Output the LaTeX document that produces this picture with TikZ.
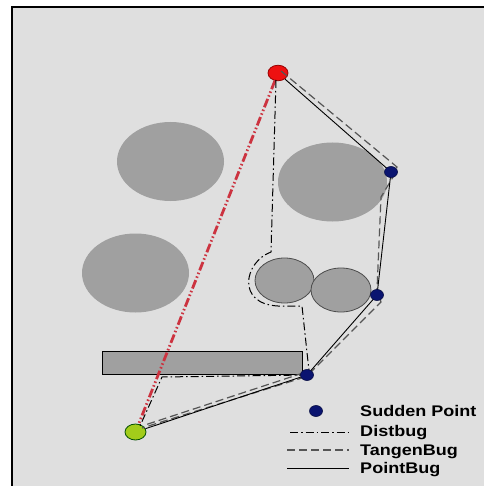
\documentclass[tikz,border=0pt]{standalone}
\usepackage{fontspec}
\setmainfont{Liberation Sans}
\usetikzlibrary{shapes.geometric}
\definecolor{bg}{HTML}{DFDFDF}
\definecolor{obst}{HTML}{A0A0A0}
\definecolor{redpt}{HTML}{EE1111}
\definecolor{redline}{HTML}{CC3340}
\definecolor{greenpt}{HTML}{A2CC1A}
\definecolor{navy}{HTML}{0A1470}
\definecolor{tgray}{HTML}{555555}
\tikzset{
  obstacle/.style={fill=obst},
  smallobst/.style={fill=obst, draw=black!70, line width=0.8pt},
  sudden/.style={ellipse, fill=navy, draw=navy!60!black, line width=0.6pt, minimum width=13pt, minimum height=11pt, inner sep=0pt},
  startpt/.style={ellipse, fill=redpt, draw=red!60!black, line width=0.8pt, minimum width=20pt, minimum height=15.5pt, inner sep=0pt},
  goalpt/.style={ellipse, fill=greenpt, draw=green!30!black, line width=0.8pt, minimum width=21pt, minimum height=16pt, inner sep=0pt},
  straightline/.style={draw=redline, line width=2.8pt, dash pattern=on 9pt off 2.5pt on 1.5pt off 2.5pt on 1.5pt off 2.5pt},
  distbug/.style={draw=black, line width=1pt, dash pattern=on 8pt off 3pt on 1.5pt off 3pt},
  tangenbug/.style={draw=tgray, line width=1.2pt, dash pattern=on 8pt off 4pt},
  pointbug/.style={draw=black, line width=0.9pt},
  legendtext/.style={anchor=base west, inner sep=0pt, font=\fontsize{15.4}{16}\bfseries\selectfont, xscale=1.17},
}
\begin{document}
\begin{tikzpicture}[x=1pt,y=-1pt]
\useasboundingbox (0,0) rectangle (484,486);
\fill[white] (0,0) rectangle (484,486);
\fill[bg] (11,6) rectangle (484,486);
\draw[black, line width=1.6pt] (11.8,486) -- (11.8,6.8) -- (484,6.8);
% obstacles
\fill[obstacle] (170.5,161.5) ellipse [x radius=53.5, y radius=39.5];
\fill[obstacle] (135.5,273) ellipse [x radius=53.5, y radius=39.5];
\fill[obstacle] (332.5,182) ellipse [x radius=54.5, y radius=39.5];
\draw[smallobst] (284.5,280.5) ellipse [x radius=29.5, y radius=22.5];
\draw[smallobst] (341,290) ellipse [x radius=30, y radius=22];
\draw[fill=obst, draw=black, line width=0.8pt] (102.5,351.5) rectangle (302.5,374);
% named points
\node[startpt] (S) at (278,73) {};
\node[goalpt] (G) at (135.5,432) {};
\coordinate (p1) at (391,172);
\coordinate (p2) at (377,295);
\coordinate (p3) at (307,375);
% straight line
\draw[straightline] (S) -- (G);
% Distbug
\coordinate (d1) at (276,80);
\coordinate (d2) at (271,252);
\coordinate (d3) at (278,306);
\coordinate (d4) at (302,306);
\coordinate (d5) at (309,371);
\coordinate (d6) at (162,377);
\coordinate (d7) at (140,426);
\draw[distbug] (d1) -- (d2) .. controls (244,262) and (236,304) .. (d3) -- (d4) -- (d5);
\draw[distbug] (p3) -- (d6) -- (d7);
% TangenBug
\coordinate (t1) at (281,71);
\coordinate (t2) at (397,167);
\coordinate (t3) at (393,177);
\coordinate (t4) at (381,197);
\coordinate (t5) at (377,290);
\coordinate (t6) at (381,302);
\coordinate (t7) at (311,372);
\coordinate (t8) at (303,373);
\coordinate (t9) at (145,425);
\coordinate (t10) at (305,377);
\coordinate (t11) at (142,428);
\draw[tangenbug] (t1) -- (t2) -- (t3) -- (t4) -- (t5) -- (t6) -- (t7);
\draw[tangenbug] (t8) -- (t9);
\draw[tangenbug] (t10) -- (t11);
% PointBug
\draw[pointbug] (S) -- (p1) -- (p2) -- (p3) -- (G);
% sudden points
\node[sudden] (sp1) at (p1) {};
\node[sudden] (sp2) at (p2) {};
\node[sudden] (sp3) at (p3) {};
% legend
\node[sudden] (lsp) at (316,411) {};
\coordinate (la1) at (290,432); \coordinate (la2) at (349,432);
\coordinate (lb1) at (287,450); \coordinate (lb2) at (349,450);
\coordinate (lc1) at (287,468); \coordinate (lc2) at (349,468);
\draw[distbug] (la1) -- (la2);
\draw[tangenbug] (lb1) -- (lb2);
\draw[pointbug] (lc1) -- (lc2);
\node[legendtext] (t_sp) at (360,416.7) {Sudden Point};
\node[legendtext] (t_db) at (360,436.7) {Distbug};
\node[legendtext] (t_tb) at (360,455) {TangenBug};
\node[legendtext] (t_pb) at (360,473.3) {PointBug};
\end{tikzpicture}
\end{document}
